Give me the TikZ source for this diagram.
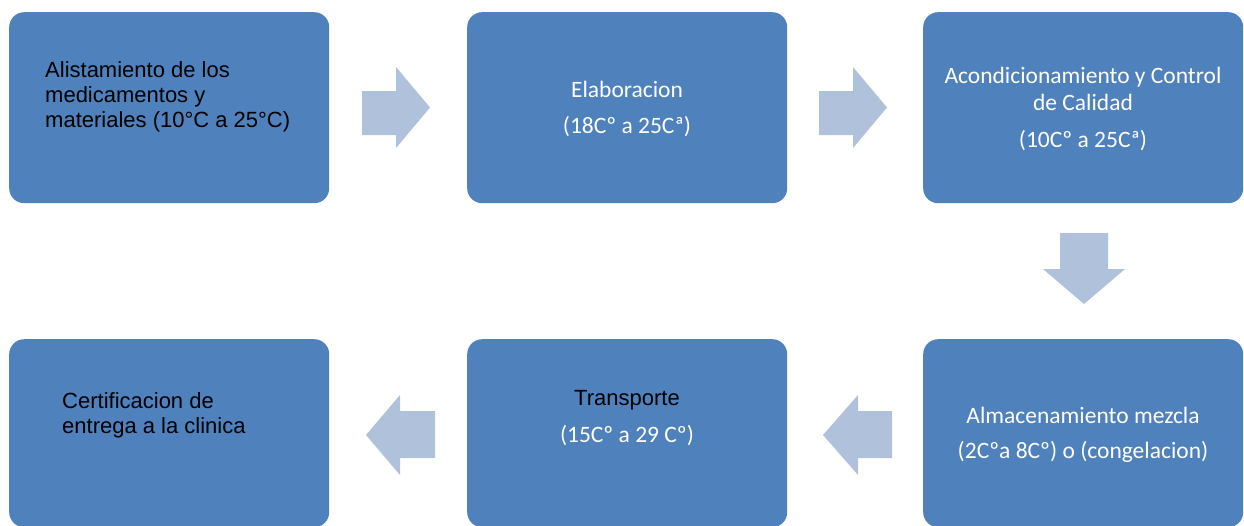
\documentclass[tikz,border=0pt]{standalone}
\usepackage{fontspec}
\setmainfont{Liberation Sans}
\newfontfamily\calib{Carlito}
\definecolor{boxblue}{HTML}{4F81BD}
\definecolor{arrowblue}{HTML}{B0C1DC}
\begin{document}
\begin{tikzpicture}[x=1pt,y=-1pt,
  box/.style={fill=boxblue, draw=none, rounded corners=15pt, minimum width=320pt, minimum height=191pt, anchor=north west, inner sep=0pt},
  lowbox/.style={box, minimum height=188pt},
  blockarrow/.style={fill=arrowblue, draw=none},
  blk/.style={anchor=base, text=black, font=\fontsize{22}{25}\selectfont, inner sep=0pt},
  blkw/.style={anchor=base west, text=black, font=\fontsize{22}{25}\selectfont, inner sep=0pt},
  wht/.style={anchor=base, text=white, font=\calib\fontsize{23.5}{27}\selectfont, inner sep=0pt}]
\useasboundingbox (0,0) rectangle (1244,525);
\fill[white] (0,0) rectangle (1244,525);
\begin{scope}
\clip (0,0) rectangle (1244,525);
% boxes
\node[box] (b1) at (9,12) {};
\node[box] (b2) at (467,12) {};
\node[box] (b3) at (923,12) {};
\node[lowbox] (b6) at (923,339) {};
\node[lowbox] (b5) at (467,339) {};
\node[lowbox] (b4) at (9,339) {};
% block arrows
\fill[blockarrow] (362,91) -- (396,91) -- (396,67) -- (430,107.5) -- (396,148) -- (396,135) -- (362,135) -- cycle;
\fill[blockarrow] (819,91) -- (853,91) -- (853,67) -- (887,107.5) -- (853,148) -- (853,135) -- (819,135) -- cycle;
\fill[blockarrow] (1060,233) -- (1108,233) -- (1108,269) -- (1125,269) -- (1084,304) -- (1043,269) -- (1060,269) -- cycle;
\fill[blockarrow] (892,411) -- (858,411) -- (858,395) -- (823,435) -- (858,475) -- (858,458) -- (892,458) -- cycle;
\fill[blockarrow] (435,411) -- (400,411) -- (400,395) -- (366,435) -- (400,475) -- (400,458) -- (435,458) -- cycle;
% texts
\node[blkw] (t1a) at (45,77) {Alistamiento de los};
\node[blkw] (t1b) at (45,102) {medicamentos y};
\node[blkw] (t1c) at (45,127) {materiales (10°C a 25°C)};
\node[wht] (t2a) at (627,97) {Elaboracion};
\node[wht] (t2b) at (627,133) {(18Cº a 25Cª)};
\node[wht] (t3a) at (1083,83) {Acondicionamiento y Control};
\node[wht] (t3b) at (1083,110) {de Calidad};
\node[wht] (t3c) at (1083,147) {(10Cº a 25Cª)};
\node[wht] (t6a) at (1083,423) {Almacenamiento mezcla};
\node[wht] (t6b) at (1083,458) {(2Cºa 8Cº) o (congelacion)};
\node[blk] (t5a) at (627,405) {Transporte};
\node[wht] (t5b) at (627,442) {(15Cº a 29 Cº)};
\node[blkw] (t4a) at (62,408) {Certificacion de};
\node[blkw] (t4b) at (62,433) {entrega a la clinica};
\end{scope}
\end{tikzpicture}
\end{document}
